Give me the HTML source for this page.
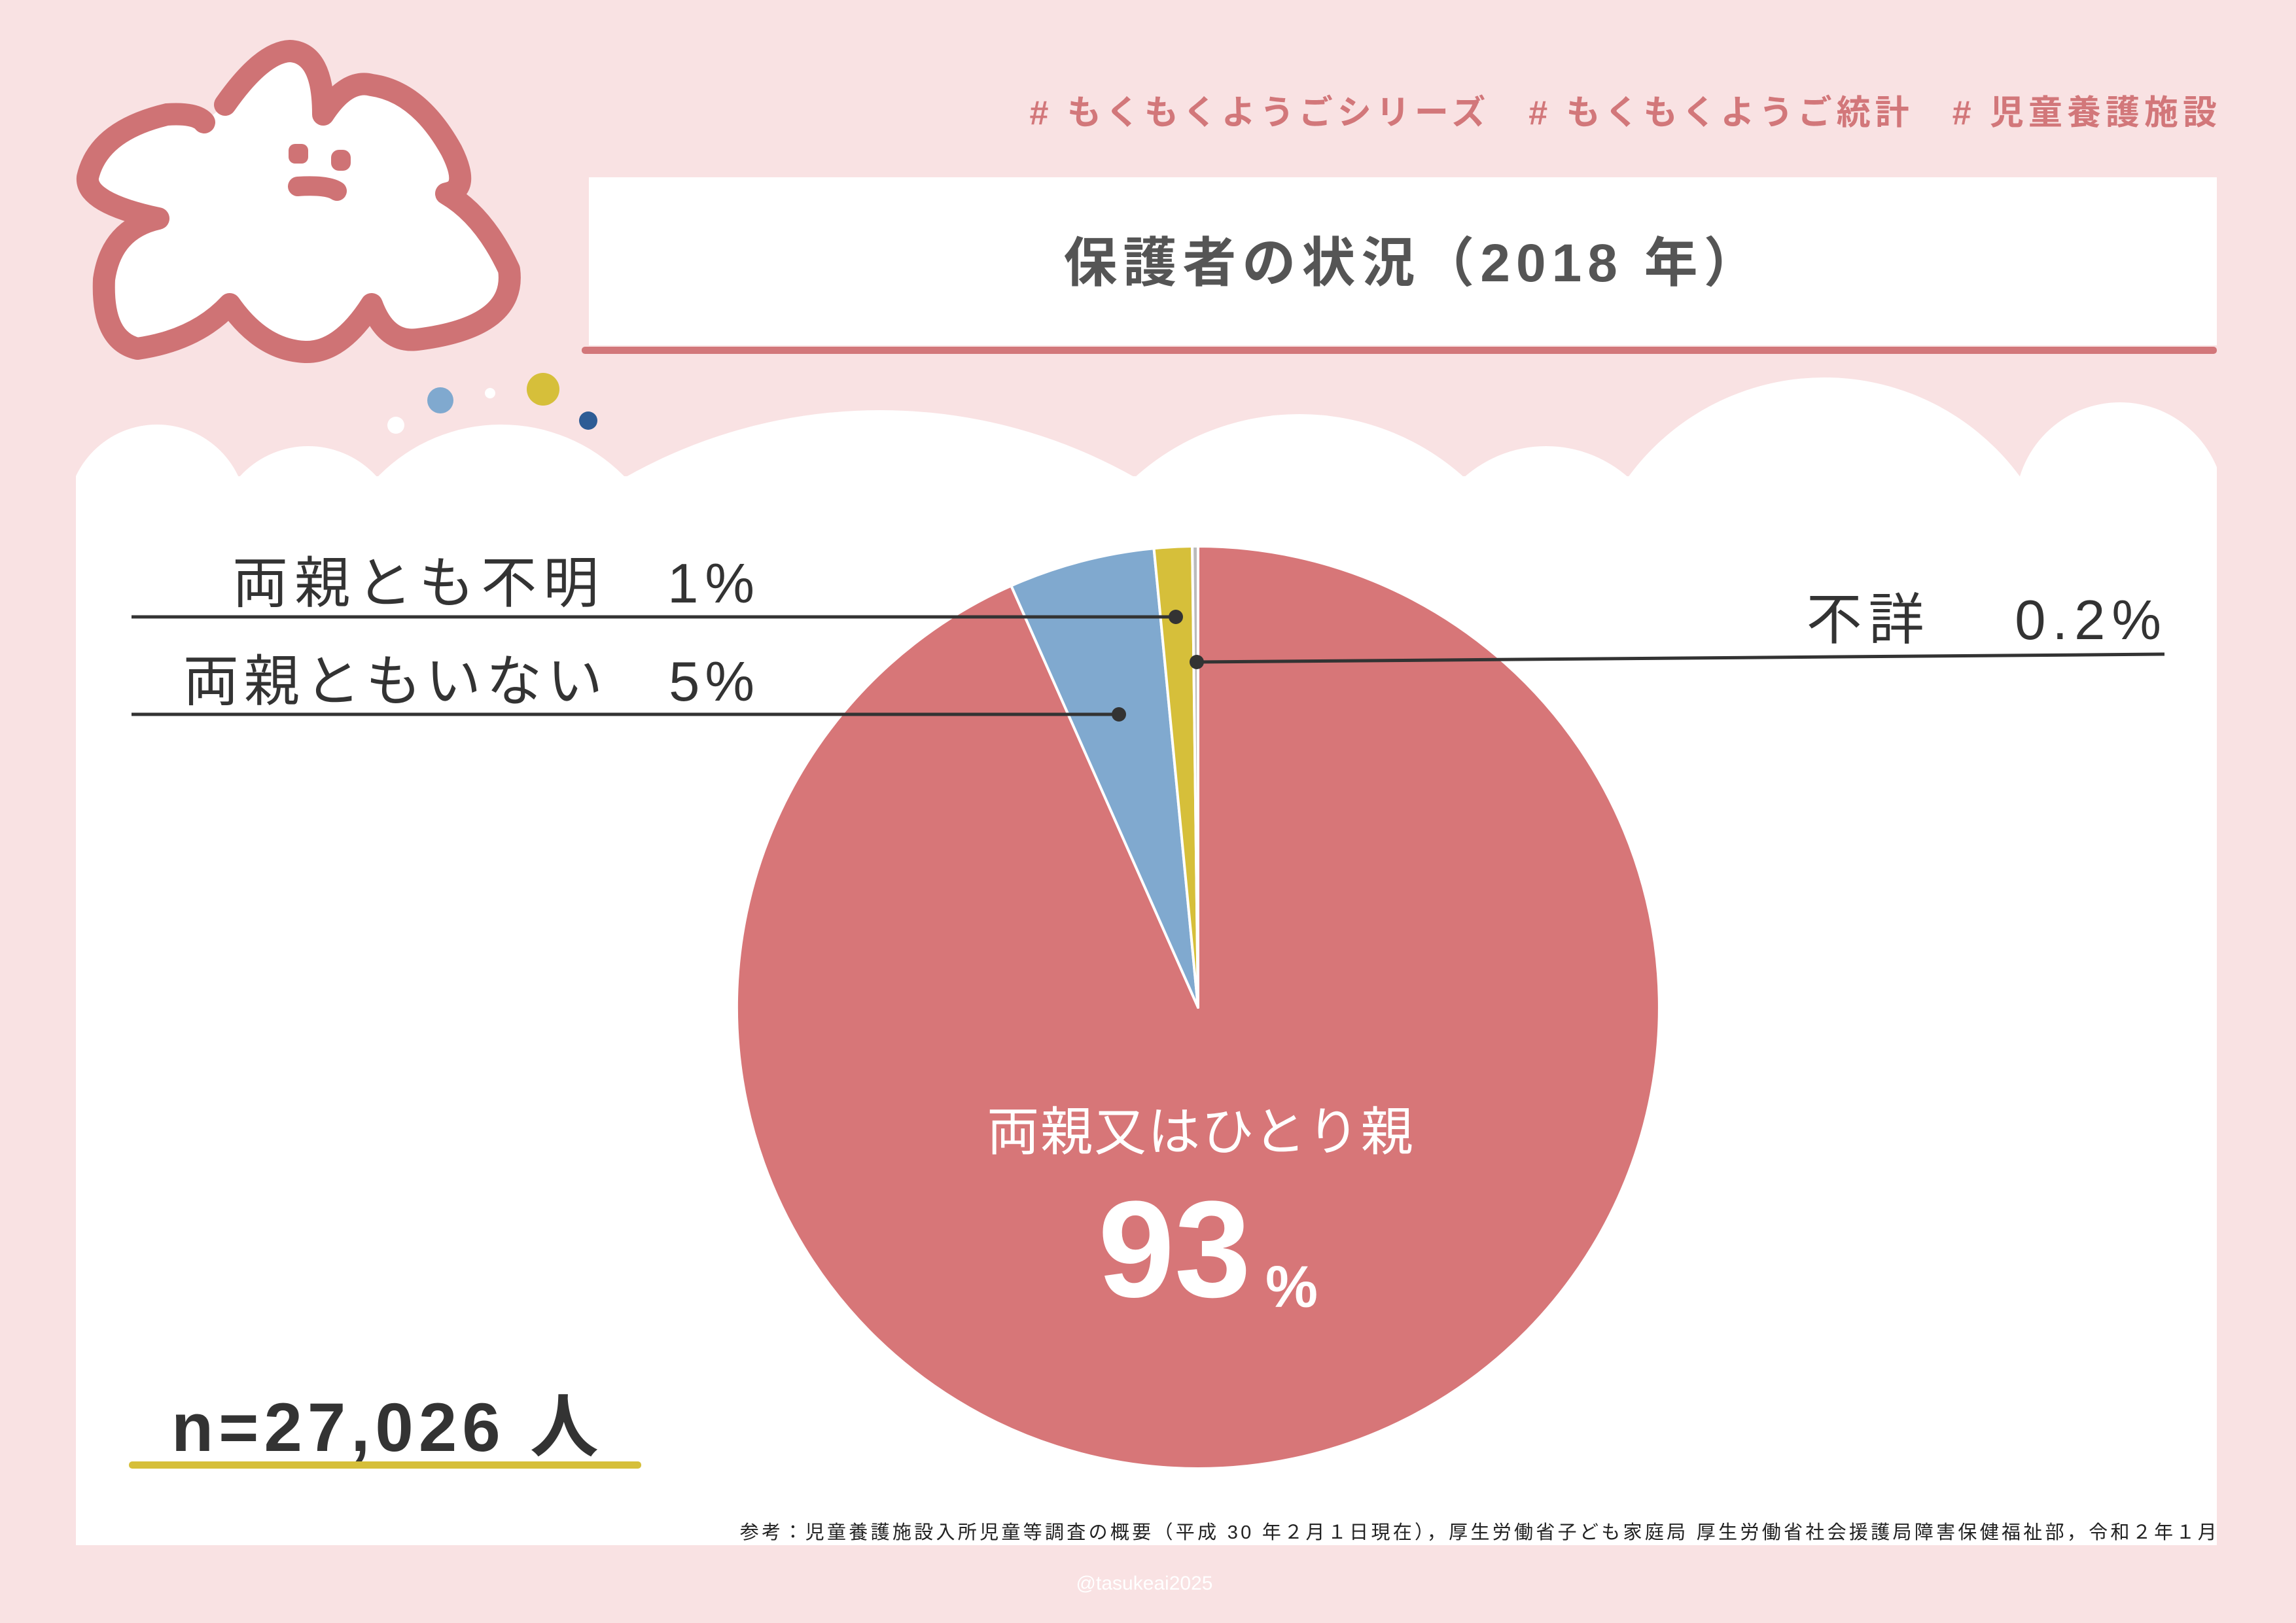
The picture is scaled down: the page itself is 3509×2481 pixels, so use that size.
<!DOCTYPE html>
<html><head><meta charset="utf-8"><style>
html,body{margin:0;padding:0;}
body{width:3509px;height:2481px;overflow:hidden;background:#f9e2e3;}
svg{display:block;}
text{font-family:"Liberation Sans","Noto Sans CJK JP",sans-serif;}
</style></head><body>
<svg width="3509" height="2481" viewBox="0 0 3509 2481" xmlns="http://www.w3.org/2000/svg">
<rect width="3509" height="2481" fill="#f9e2e3"/>
<defs><clipPath id="pc"><rect x="116" y="0" width="3272" height="2362"/></clipPath></defs>
<g fill="#fff" clip-path="url(#pc)">
<rect x="116" y="728" width="3272" height="1634"/>
<circle cx="240" cy="786" r="137"/>
<circle cx="471" cy="823" r="141"/>
<circle cx="766" cy="912" r="263"/>
<circle cx="1345" cy="1417" r="790"/>
<circle cx="1986" cy="1009" r="376"/>
<circle cx="2363" cy="871" r="189"/>
<circle cx="2788" cy="948" r="371"/>
<circle cx="3240" cy="775" r="160"/>
</g>
<path d="M344 160 Q400 80 443 78 Q494 80 494 175 Q530 120 568 130 Q640 140 690 230 Q720 290 682 296 Q740 330 778 412 Q790 500 638 519 Q590 525 568 465 Q520 540 466 538 Q400 535 351 465 Q300 520 210 533 Q155 520 159 427 Q170 350 242 334 Q130 310 134 271 Q150 200 255 175 Q300 172 312 187"
 fill="#fff" stroke="#cf7375" stroke-width="34" stroke-linecap="round" stroke-linejoin="round"/>
<rect x="441" y="220" width="30" height="30" rx="10" fill="#cf7375"/>
<rect x="506" y="229" width="30" height="32" rx="12" fill="#cf7375"/>
<path d="M455 285 Q500 282 515 292" stroke="#cf7375" stroke-width="30" stroke-linecap="round" fill="none"/>
<circle cx="673" cy="612" r="20" fill="#80a9cf"/>
<circle cx="749" cy="601" r="8" fill="#fff"/>
<circle cx="830" cy="595" r="25" fill="#d6bf3a"/>
<circle cx="899" cy="643" r="14" fill="#2e5c95"/>
<circle cx="605" cy="650" r="13" fill="#fff"/>
<text x="3395" y="190" text-anchor="end" font-size="52" font-weight="bold" letter-spacing="7" fill="#d2777a">#&#160;もくもくようごシリーズ　#&#160;もくもくようご統計　#&#160;児童養護施設</text>
<rect x="900" y="271" width="2488" height="257" fill="#fff"/>
<rect x="889" y="530" width="2499" height="11" rx="5" fill="#d2777a"/>
<text x="2160" y="430" text-anchor="middle" font-size="82" font-weight="bold" letter-spacing="9" fill="#555">保護者の状況（2018 年）</text>
<g stroke="#fff" stroke-width="4" stroke-linejoin="round">
<path d="M1831 1540 L1831 835 A705 705 0 1 1 1545.4 895.4 Z" fill="#d77678"/>
<path d="M1831 1540 L1545.4 895.4 A705 705 0 0 1 1763.5 838.2 Z" fill="#80a9cf"/>
<path d="M1831 1540 L1763.5 838.2 A705 705 0 0 1 1822.1 835.05 Z" fill="#d6bf3a"/>
<path d="M1831 1540 L1822.1 835.05 A705 705 0 0 1 1831 835 Z" fill="#bbb"/>
</g>
<text x="1835" y="1758" text-anchor="middle" font-size="80" letter-spacing="2" fill="#fff">両親又はひとり親</text>
<text x="1795" y="1982" text-anchor="middle" font-size="210" font-weight="bold" fill="#fff">93</text>
<text x="1974" y="1998" text-anchor="middle" font-size="90" font-weight="bold" fill="#fff">%</text>
<g stroke="#333" stroke-width="5">
<line x1="201" y1="943" x2="1797" y2="943"/>
<line x1="201" y1="1092" x2="1710" y2="1092"/>
<line x1="1829" y1="1012" x2="3308" y2="1000"/>
</g>
<circle cx="1797" cy="943" r="11" fill="#333"/>
<circle cx="1710" cy="1092" r="11" fill="#333"/>
<circle cx="1829" cy="1012" r="11" fill="#333"/>
<text x="1163" y="921" text-anchor="end" font-size="85" letter-spacing="10" fill="#333">両親とも不明　1%</text>
<text x="1161" y="1071" text-anchor="end" font-size="85" letter-spacing="8" fill="#333">両親ともいない　5%</text>
<text x="3313" y="977" text-anchor="end" font-size="85" letter-spacing="10" fill="#333">不詳　 0.2%</text>
<text x="262" y="2218" font-size="105" font-weight="bold" letter-spacing="8" fill="#333">n=27,026 人</text>
<rect x="197" y="2234" width="783" height="11" rx="5" fill="#d6bf3a"/>
<text x="3392" y="2352" text-anchor="end" font-size="29" letter-spacing="4.3" fill="#222">参考：児童養護施設入所児童等調査の概要（平成 30 年２月１日現在），厚生労働省子ども家庭局 厚生労働省社会援護局障害保健福祉部，令和２年１月</text>
<text x="1749" y="2430" text-anchor="middle" font-size="30" fill="#fff">@tasukeai2025</text>
</svg>
</body></html>
